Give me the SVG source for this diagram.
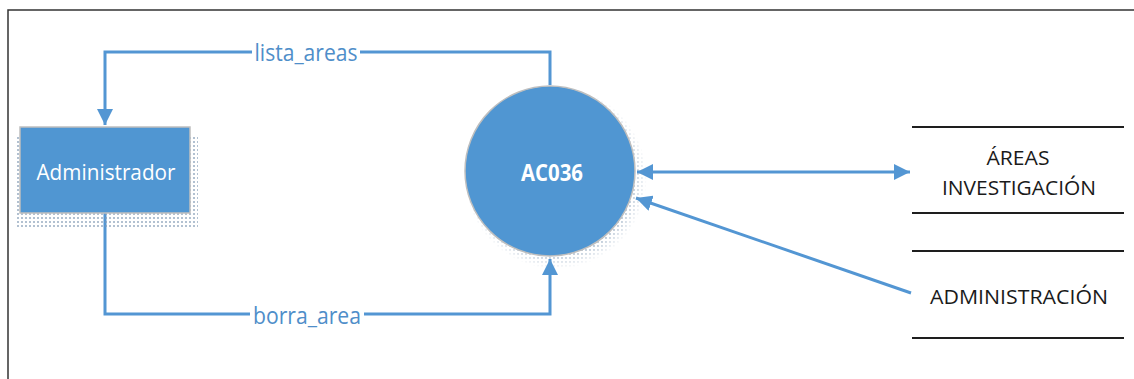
<svg xmlns="http://www.w3.org/2000/svg" width="1134" height="379" viewBox="0 0 1134 379">
<style>
.flow{fill:none;stroke:#5396d3;stroke-width:3}
.lbl{font-family:"Open Sans","Liberation Sans",sans-serif;font-size:23px;fill:#4f8ec9;dominant-baseline:central;text-anchor:middle}
.store{stroke:#1e1e1e;stroke-width:2}
.st{font-family:"Open Sans","Liberation Sans",sans-serif;font-size:19.5px;fill:#1a1a1a;dominant-baseline:central;text-anchor:middle}
.wt{font-family:"Open Sans","Liberation Sans",sans-serif;fill:#fff;dominant-baseline:central;text-anchor:middle}
</style>
<defs>
<pattern id="dots" width="4" height="4" patternUnits="userSpaceOnUse">
<circle cx="2" cy="2" r="1" fill="#7f98b3"/>
</pattern>
<radialGradient id="fade" cx="0.5" cy="0.5" r="0.5">
<stop offset="0.8" stop-color="#fff" stop-opacity="1"/>
<stop offset="1" stop-color="#fff" stop-opacity="0"/>
</radialGradient>
<mask id="cmask"><circle cx="556" cy="178" r="91" fill="url(#fade)"/></mask>
<marker id="arr" markerUnits="userSpaceOnUse" markerWidth="18" markerHeight="16" refX="16" refY="8" orient="auto-start-reverse">
<path d="M0,0 L16,8 L0,16 Z" fill="#5396d3"/>
</marker>
</defs>
<path d="M8,379 L8,10 L1134,10" fill="none" stroke="#333" stroke-width="1.5"/>
<g id="connectors">
<path class="flow" d="M550,85 L550,52 L105,52 L105,125" marker-end="url(#arr)"/>
<path class="flow" d="M105,213 L105,314 L550,314 L550,259" marker-end="url(#arr)"/>
<path class="flow" d="M637,172 L910,172" marker-start="url(#arr)" marker-end="url(#arr)"/>
<path class="flow" d="M911,293 L636,198" marker-end="url(#arr)"/>
<rect x="252" y="40" width="108" height="24" fill="#fff"/>
<text class="lbl" x="306" y="52" textLength="103" lengthAdjust="spacingAndGlyphs">lista_areas</text>
<rect x="250" y="302" width="114" height="24" fill="#fff"/>
<text class="lbl" x="307" y="315" textLength="108" lengthAdjust="spacingAndGlyphs">borra_area</text>
</g>
<g id="administrador">
<rect x="17" y="136" width="181" height="92" fill="url(#dots)" opacity="0.8"/>
<rect x="20" y="127" width="170" height="86" fill="#5096d2" stroke="#bfbfbf" stroke-width="1.5"/>
<text class="wt" x="106" y="172" font-size="21" textLength="139" lengthAdjust="spacingAndGlyphs">Administrador</text>
</g>
<g id="ac036">
<circle cx="556" cy="178" r="91" fill="url(#dots)" mask="url(#cmask)" opacity="0.85"/>
<circle cx="550" cy="171" r="85" fill="#5096d2" stroke="#bfbfbf" stroke-width="1.5"/>
<text class="wt" x="552" y="172" font-size="22.5" font-weight="bold" textLength="62" lengthAdjust="spacingAndGlyphs">AC036</text>
</g>
<g id="areas_investigacion">
<line class="store" x1="912" y1="127" x2="1124" y2="127"/>
<line class="store" x1="912" y1="213" x2="1124" y2="213"/>
<text class="st" x="1018" y="157" textLength="63" lengthAdjust="spacingAndGlyphs">ÁREAS</text>
<text class="st" x="1019" y="187" textLength="154" lengthAdjust="spacingAndGlyphs">INVESTIGACIÓN</text>
</g>
<g id="administracion">
<line class="store" x1="912" y1="251" x2="1124" y2="251"/>
<line class="store" x1="912" y1="338" x2="1124" y2="338"/>
<text class="st" x="1019" y="296" textLength="178" lengthAdjust="spacingAndGlyphs">ADMINISTRACIÓN</text>
</g>
</svg>
